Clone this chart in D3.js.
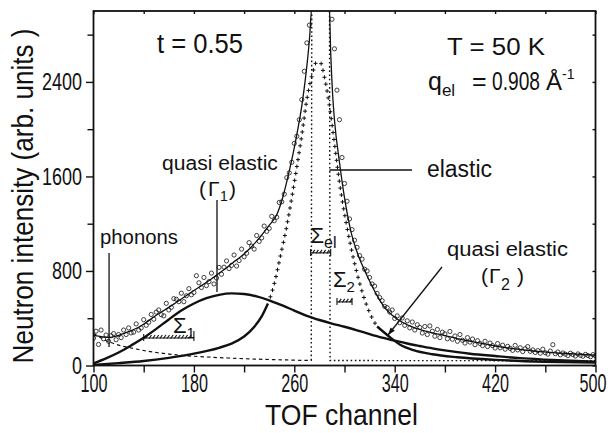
<!DOCTYPE html>
<html>
<head>
<meta charset="utf-8">
<script src="https://cdn.jsdelivr.net/npm/d3@7"></script>
<style>
  body { margin: 0; background: #fff; }
  svg { display: block; }
  text { font-family: "Liberation Sans", Arial, sans-serif; fill: #111; }
</style>
</head>
<body>
<svg id="chart" width="611" height="433"></svg>
<script>
// ---- axis ticks ----
const xTicks = [100, 180, 260, 340, 420, 500];
const xMinorTicks = [140, 220, 300, 380, 460];
const yTicks = [0, 800, 1600, 2400];
const yMinorTicks = [400, 1200, 2000, 2800];

// ---- fitted curves: [TOF channel, intensity] ----
const totalFit = [
  [100, 258], [104, 248], [108, 241], [113, 238], [118, 248], [125, 275], [131, 300],
  [137, 330], [144, 380], [150, 425], [157, 472], [163, 513], [170, 563], [177, 614],
  [185, 668], [193, 725], [200, 780], [206, 828], [211, 870], [217, 918], [225, 995],
  [233, 1090], [240, 1185], [246, 1275], [251, 1430], [255, 1600], [259, 1790],
  [263, 2010], [266, 2200], [269, 2440], [272, 2750], [274.2, 3050],
  [287.8, 3050], [289, 2650], [290.5, 2300], [292, 2080], [296, 1720], [300, 1420],
  [305, 1140], [310, 960], [318, 760], [325, 610], [331, 505], [338, 425], [345, 372],
  [355, 322], [365, 290], [375, 265], [390, 228], [405, 195], [428, 152], [450, 124],
  [475, 102], [500, 88]
];

// broad quasi-elastic line (Gamma 1)
const quasi1 = [
  [100, 18], [110, 60], [120, 110], [130, 170], [140, 235], [150, 310], [160, 390],
  [170, 465], [180, 525], [190, 570], [200, 598], [210, 610], [220, 605], [230, 585],
  [240, 552], [250, 510], [260, 465], [270, 420], [280, 385], [290, 355], [300, 328],
  [310, 298], [320, 266], [330, 236], [340, 210], [350, 186], [360, 165], [370, 145],
  [380, 128], [390, 113], [400, 100], [420, 80], [440, 62], [460, 50], [480, 40], [500, 32]
];

// narrow quasi-elastic line (Gamma 2)
const quasi2 = [
  [100, 5], [120, 20], [140, 38], [160, 65], [180, 100], [200, 150], [210, 185],
  [220, 245], [228, 325], [234, 415], [239, 525], [244, 690], [249, 930], [254, 1180],
  [258, 1420], [262, 1680], [266, 1950], [270, 2250], [274, 2450], [278, 2570],
  [281, 2560], [284, 2440], [288, 2200], [292, 1880], [296, 1550], [302, 1170],
  [310, 780], [318, 500], [326, 330], [335, 250], [344, 178], [355, 130], [370, 95],
  [390, 70], [420, 48], [460, 32], [500, 24]
];

// phonon background
const phonons = [
  [100, 270], [105, 240], [110, 212], [115, 190], [120, 172], [130, 148], [140, 127],
  [150, 110], [160, 97], [175, 82], [190, 72], [210, 62], [230, 54], [250, 48],
  [265, 44], [274, 43]
];

// elastic (resolution) line
const elastic = [
  [273.5, 43], [274, 3400], [288, 3400], [288.5, 42], [400, 41], [500, 40]
];

// ---- measured spectrum, channels 100..500 in steps of 2 (null = off scale) ----
const measuredStart = 100;
const measuredStep = 2;
const measured = [
  232, 290, 178, 300, 226, 258, 205, 252, 270, 218,
  262, 236, 300, 262, 318, 276, 282, 352, 300, 318,
  388, 340, 366, 432, 392, 452, 470, 430, 420, 526,
  470, 492, 566, 560, 540, 612, 540, 590, 650, 598,
  618, 760, 700, 660, 745, 676, 710, 782, 690, 740,
  830, 772, 832, 885, 820, 848, 935, 842, 888, 985,
  920, 950, 1040, 1010, 985, 1100, 1050, 1080, 1180, 1135,
  1160, 1262, 1225, 1255, 1380, 1385, 1450, 1590, 1630, 1720,
  1880, 1940, 2080, 2250, 2490, 2730, 2880,
  null, null, null, null, null, null, null, null,
  2930, 2680, 2330, 2080, 1760, 1540, 1390, 1240, 1150, 1060,
  1000, 930, 900, 815, 800, 745, 690, 672, 610, 575,
  548, 500, 490, 452, 470, 398, 420, 362, 402, 340,
  378, 318, 368, 300, 345, 322, 275, 330, 262, 335,
  290, 248, 305, 236, 282, 268, 226, 288, 222, 250,
  205, 262, 214, 190, 236, 198, 224, 176, 210, 186,
  168, 205, 160, 190, 168, 148, 186, 150, 172, 138,
  162, 145, 128, 170, 132, 150, 118, 142, 160, 120,
  132, 110, 126, 104, 138, 108, 96, 122, 176, 100,
  114, 90, 106, 96, 84, 104, 92, 80, 98, 86,
  78, 94, 84, 74, 92, 82
];

// resolution widths (channel range, intensity level)
const resolutionBars = [
  { name: "1",  from: 140, to: 180, level: 233 },
  { name: "el", from: 273, to: 289, level: 953 },
  { name: "2",  from: 294, to: 306, level: 538 }
];

// ---- layout ----
const svg = d3.select("#chart");
const x = d3.scaleLinear().domain([100, 500]).range([93.5, 595.5]);
const y = d3.scaleLinear().domain([0, 3000]).range([365.5, 11]);
const ink = "#111";

svg.append("defs").append("clipPath").attr("id", "plot")
  .append("rect").attr("x", x(100)).attr("y", y(3000))
  .attr("width", x(500) - x(100)).attr("height", y(0) - y(3000));

// horizontally condense a text to a given width (narrow plotter lettering)
function condense(t, width, extra) {
  const node = t.node();
  const w = node.getComputedTextLength();
  const sx = width / w;
  const x0 = +(t.attr("x") || 0), y0 = +(t.attr("y") || 0);
  t.attr("x", 0).attr("y", 0)
    .attr("transform", `translate(${x0},${y0})${extra || ""} scale(${sx},1)`);
  return t;
}

// axes
const gx = svg.append("g").attr("transform", `translate(0,${y(0)})`)
  .call(d3.axisBottom(x).tickValues(xTicks).tickSize(7).tickPadding(1).tickFormat(d3.format("d")));
gx.append("g").call(d3.axisBottom(x).tickValues(xMinorTicks).tickSize(7).tickFormat(""));
const gy = svg.append("g").attr("transform", `translate(${x(100)},0)`)
  .call(d3.axisLeft(y).tickValues(yTicks).tickSize(7.5).tickPadding(4).tickFormat(d3.format("d")));
gy.append("g").call(d3.axisLeft(y).tickValues(yMinorTicks).tickSize(6).tickFormat(""));
// inward ticks on the top and right borders
svg.append("g").attr("transform", `translate(0,${y(3000)})`)
  .call(d3.axisBottom(x).tickValues(xTicks.concat(xMinorTicks)).tickSize(3).tickFormat(""));
svg.append("g").attr("transform", `translate(${x(500)},0)`)
  .call(d3.axisLeft(y).tickValues(yTicks.concat(yMinorTicks)).tickSize(3).tickFormat(""));

svg.selectAll(".domain").remove();
svg.selectAll(".tick line").attr("stroke", ink).attr("stroke-width", 1.4);
gx.selectAll(".tick text").attr("font-size", 26).attr("fill", ink)
  .each(function (d) {
    const t = d3.select(this);
    if (d === 500) t.attr("x", -3);
    condense(t, t.text().length * 9);
  });
gy.selectAll(".tick text").attr("font-size", 24).attr("fill", ink)
  .each(function () {
    const t = d3.select(this);
    condense(t, t.text().length * 10);
  });

// frame
svg.append("rect").attr("x", x(100)).attr("y", y(3000))
  .attr("width", x(500) - x(100)).attr("height", y(0) - y(3000))
  .attr("fill", "none").attr("stroke", ink).attr("stroke-width", 1.8);

// axis titles
condense(svg.append("text").attr("x", 341.5).attr("y", 425).attr("text-anchor", "middle")
  .attr("font-size", 29).text("TOF channel"), 153);
condense(svg.append("text").attr("x", 33).attr("y", 196).attr("text-anchor", "middle")
  .attr("font-size", 29).text("Neutron intensity (arb. units )"), 335, " rotate(-90)");

// curves
const plot = svg.append("g").attr("clip-path", "url(#plot)");
const line = d3.line().x(d => x(d[0])).y(d => y(d[1])).curve(d3.curveMonotoneX);
const straight = d3.line().x(d => x(d[0])).y(d => y(d[1]));

plot.append("path").attr("d", line(phonons)).attr("fill", "none")
  .attr("stroke", ink).attr("stroke-width", 1.2).attr("stroke-dasharray", "3.5,3");
plot.append("path").attr("d", straight(elastic)).attr("fill", "none")
  .attr("stroke", ink).attr("stroke-width", 1.4).attr("stroke-dasharray", "1.6,2.6");

plot.append("path").attr("d", line(quasi1)).attr("fill", "none")
  .attr("stroke", ink).attr("stroke-width", 2.4);
plot.append("path").attr("d", line(quasi2.filter(d => d[0] <= 240))).attr("fill", "none")
  .attr("stroke", ink).attr("stroke-width", 2.4);
plot.append("path").attr("d", line(quasi2.filter(d => d[0] >= 326))).attr("fill", "none")
  .attr("stroke", ink).attr("stroke-width", 2.4);

// upper part of Gamma 2 drawn as a chain of "+" marks
const guide = plot.append("path").attr("d", line(quasi2)).attr("fill", "none").attr("stroke", "none");
const len = guide.node().getTotalLength();
const crosses = [];
for (let s = 0; s <= len; s += 7) {
  const p = guide.node().getPointAtLength(s);
  const ch = x.invert(p.x);
  if (ch > 240 && ch < 326) crosses.push(p);
}
const plus = plot.append("g").attr("stroke", ink).attr("stroke-width", 1);
plus.selectAll("path").data(crosses).join("path")
  .attr("d", p => `M${p.x - 2},${p.y}H${p.x + 2}M${p.x},${p.y - 2}V${p.y + 2}`);

plot.append("path").attr("d", line(totalFit)).attr("fill", "none")
  .attr("stroke", ink).attr("stroke-width", 1.3);

// measured points
const points = measured.map((v, i) => [measuredStart + i * measuredStep, v]).filter(d => d[1] !== null);
plot.append("g").selectAll("circle").data(points).join("circle")
  .attr("cx", d => x(d[0])).attr("cy", d => y(d[1])).attr("r", 2.1)
  .attr("fill", "none").attr("stroke", ink).attr("stroke-width", 0.8);

// resolution bars with their labels
const labelOffsets = { "1": [-21, -5, 22], "el": [0, -10, 22], "2": [-4, -15, 22] };
resolutionBars.forEach(b => {
  const x0 = x(b.from), x1 = x(b.to), yy = y(b.level);
  const gb = svg.append("g").attr("stroke", ink).attr("stroke-width", 1.1);
  gb.append("line").attr("x1", x0).attr("x2", x1).attr("y1", yy).attr("y2", yy);
  gb.append("line").attr("x1", x0).attr("x2", x0).attr("y1", yy - 4).attr("y2", yy + 3);
  gb.append("line").attr("x1", x1).attr("x2", x1).attr("y1", yy - (b.name === "1" ? 7 : 4)).attr("y2", yy + 3);
  for (let xx = x0 + 3; xx < x1 - 1; xx += 3.6) {
    gb.append("line").attr("x1", xx - 1.2).attr("x2", xx + 1.2).attr("y1", yy + 0.5).attr("y2", yy - 3);
  }
  const [dx, dy, fs] = labelOffsets[b.name];
  const lx = (b.name === "1" ? x1 : x0) + dx;
  const t = svg.append("text").attr("y", yy + dy).attr("font-size", fs);
  t.append("tspan").attr("x", lx).text("Σ");
  t.append("tspan").attr("x", lx + 13.5).attr("dy", 5)
    .attr("font-size", b.name === "el" ? 16 : 15).text(b.name);
});

// annotations
function label(txt, px, py, fs, width) {
  const t = svg.append("text").attr("x", px).attr("y", py).attr("font-size", fs).text(txt);
  if (width) condense(t, width);
  return t;
}
function leader(c0, v0, c1, v1) {
  return svg.append("line").attr("x1", x(c0)).attr("y1", y(v0)).attr("x2", x(c1)).attr("y2", y(v1))
    .attr("stroke", ink).attr("stroke-width", 1.3);
}

label("t = 0.55", 157, 53, 28, 86);
label("T = 50 K", 447, 55, 24, 98);

// momentum transfer: q_el = 0.908 Å^-1
const q = svg.append("text").attr("x", 428).attr("y", 90).attr("font-size", 25);
q.append("tspan").text("q");
q.append("tspan").attr("dy", 6).attr("font-size", 17).text("el");
label("=", 472, 90, 25);
label("0.908", 492, 90, 25, 48);
const unit = svg.append("text").attr("x", 546).attr("y", 90).attr("font-size", 24);
unit.append("tspan").text("Å");
unit.append("tspan").attr("dy", -11).attr("font-size", 14).text("-1");

label("elastic", 427, 177, 23, 65);
leader(288, y.invert(170), x.invert(412), y.invert(170));

label("quasi elastic", 162, 170, 21, 116);
const g1 = svg.append("text").attr("y", 196).attr("font-size", 21);
g1.append("tspan").attr("x", 199).text("(");
g1.append("tspan").attr("x", 208).text("Γ");
g1.append("tspan").attr("x", 220).attr("dy", 5).attr("font-size", 14).text("1");
g1.append("tspan").attr("x", 229).attr("dy", -5).text(")");
leader(198.4, y.invert(200), 198.4, y.invert(292));

label("phonons", 100, 244, 21, 78);
leader(112.4, y.invert(253), 112.4, y.invert(347));

label("quasi elastic", 447, 256, 21, 121);
const g2 = svg.append("text").attr("y", 283).attr("font-size", 21);
g2.append("tspan").attr("x", 481).text("(");
g2.append("tspan").attr("x", 489).text("Γ");
g2.append("tspan").attr("x", 501).attr("dy", 7).attr("font-size", 16).text("2");
g2.append("tspan").attr("x", 517).attr("dy", -7).text(")");

// arrow pointing at Gamma 2
const ax0 = 442, ay0 = 267, ax1 = 388, ay1 = 335;
svg.append("line").attr("x1", ax0).attr("y1", ay0).attr("x2", ax1).attr("y2", ay1)
  .attr("stroke", ink).attr("stroke-width", 1.3);
const ang = Math.atan2(ay1 - ay0, ax1 - ax0);
const ah = 8, aw = 0.35;
svg.append("path")
  .attr("d", `M${ax1},${ay1}L${ax1 - ah * Math.cos(ang - aw)},${ay1 - ah * Math.sin(ang - aw)}L${ax1 - ah * Math.cos(ang + aw)},${ay1 - ah * Math.sin(ang + aw)}Z`)
  .attr("fill", ink);
</script>
</body>
</html>
